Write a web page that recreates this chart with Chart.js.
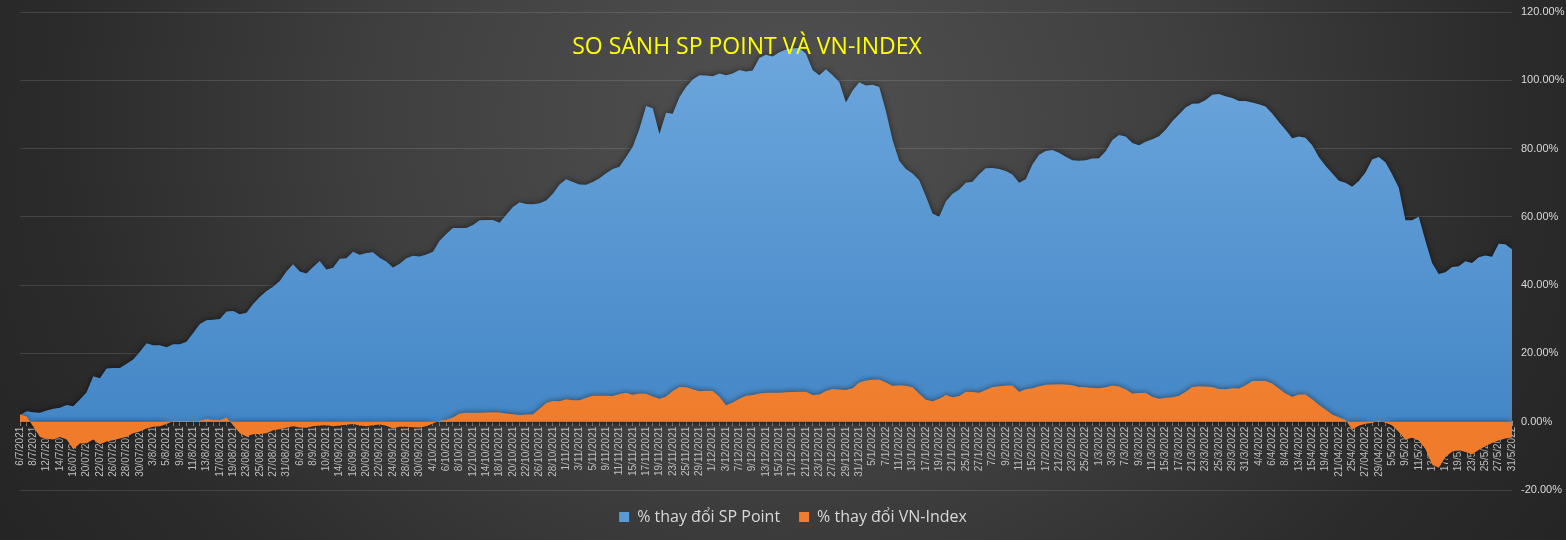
<!DOCTYPE html>
<html>
<head>
<meta charset="utf-8">
<script src="https://cdn.jsdelivr.net/npm/chart.js@4/dist/chart.umd.min.js"></script>
<style>
  html, body { margin: 0; padding: 0; overflow: hidden; }
  #wrap {
    width: 1566px; height: 540px; position: relative;
    background: radial-gradient(ellipse 58% 150% at 50% 22%, #515151 0%, #3f3f3f 45%, #2b2b2b 80%, #252525 100%);
  }
  canvas { display: block; }
</style>
</head>
<body>
<div id="wrap"><canvas id="chart" width="1566" height="540"></canvas></div>
<script>
const chartTitle = "SO SÁNH SP POINT VÀ VN-INDEX";
const seriesNames = ["% thay đổi SP Point", "% thay đổi VN-Index"];

// trading days, 6/7/2021 -> 31/5/2022 (text as shown on the axis)
const dates = [
  "6/7/2021","7/7/2021","8/7/2021","9/7/2021","12/7/2021","13/7/2021","14/7/2022","15/07/2021","16/07/2021","19/07/2021",
  "20/07/2021","21/07/2021","22/07/2021","23/07/2021","26/07/2021","27/07/2021","28/07/2021","29/07/2021","30/07/2021",
  "2/8/2021","3/8/2021","4/8/2021","5/8/2021","6/8/2021","9/8/2021","10/8/2021","11/8/2021","12/8/2021","13/8/2021",
  "16/08/2021","17/08/2021","18/08/2021","19/08/2021","20/08/2021","23/08/2021","24/08/2021","25/08/2021","26/08/2021",
  "27/08/2021","30/08/2021","31/08/2021",
  "1/9/2021","6/9/2021","7/9/2021","8/9/2021","9/9/2021","10/9/2021","13/09/2021","14/09/2021","15/09/2021","16/09/2021",
  "17/09/2021","20/09/2021","21/09/2021","22/09/2021","23/09/2021","24/09/2021","27/09/2021","28/09/2021","29/09/2021","30/09/2021",
  "1/10/2021","4/10/2021","5/10/2021","6/10/2021","7/10/2021","8/10/2021","11/10/2021","12/10/2021","13/10/2021","14/10/2021",
  "15/10/2021","18/10/2021","19/10/2021","20/10/2021","21/10/2021","22/10/2021","25/10/2021","26/10/2021","27/10/2021",
  "28/10/2021","29/10/2021",
  "1/11/2021","2/11/2021","3/11/2021","4/11/2021","5/11/2021","8/11/2021","9/11/2021","10/11/2021","11/11/2021","12/11/2021",
  "15/11/2021","16/11/2021","17/11/2021","18/11/2021","19/11/2021","22/11/2021","23/11/2021","24/11/2021","25/11/2021",
  "26/11/2021","29/11/2021","30/11/2021",
  "1/12/2021","2/12/2021","3/12/2021","6/12/2021","7/12/2021","8/12/2021","9/12/2021","10/12/2021","13/12/2021","14/12/2021",
  "15/12/2021","16/12/2021","17/12/2021","20/12/2021","21/12/2021","22/12/2021","23/12/2021","24/12/2021","27/12/2021",
  "28/12/2021","29/12/2021","30/12/2021","31/12/2021",
  "4/1/2022","5/1/2022","6/1/2022","7/1/2022","10/1/2022","11/1/2022","12/1/2022","13/1/2022","14/1/2022","17/1/2022",
  "18/1/2022","19/1/2022","20/1/2022","21/1/2022","24/1/2022","25/1/2022","26/1/2022","27/1/2022","28/1/2022",
  "7/2/2022","8/2/2022","9/2/2022","10/2/2022","11/2/2022","14/2/2022","15/2/2022","16/2/2022","17/2/2022","18/2/2022",
  "21/2/2022","22/2/2022","23/2/2022","24/2/2022","25/2/2022","28/2/2022",
  "1/3/2022","2/3/2022","3/3/2022","4/3/2022","7/3/2022","8/3/2022","9/3/2022","10/3/2022","11/3/2022","14/3/2022",
  "15/3/2022","16/3/2022","17/3/2022","18/3/2022","21/3/2022","22/3/2022","23/3/2022","24/3/2022","25/3/2022","28/3/2022",
  "29/3/2022","30/3/2022","31/3/2022",
  "1/4/2022","4/4/2022","5/4/2022","6/4/2022","7/4/2022","8/4/2022","12/4/2022","13/4/2022","14/4/2022","15/4/2022",
  "18/4/2022","19/4/2022","20/04/2022","21/04/2022","22/04/2022","25/4/2022","26/04/2022","27/04/2022","28/04/2022","29/04/2022",
  "4/5/2022","5/5/2022","6/5/2022","9/5/2022","10/5/2022","11/5/2022","12/5/2022","13/5/2022","16/5/2022","17/5/2022",
  "18/5/2022","19/5/2022","20/5/2022","23/5/2022","24/5/2022","25/5/2022","26/5/2022","27/5/2022","30/5/2022","31/5/2022"
];

// % change of SP Point
const spPoint = [
  2.0, 3.1, 2.8, 2.6, 3.3, 3.8, 4.1, 4.9, 4.5, 6.5,
  8.6, 13.3, 12.7, 15.6, 15.7, 15.7, 17.0, 18.2, 20.5, 23.0,
  22.4, 22.4, 21.8, 22.7, 22.7, 23.4, 26.0, 28.6, 29.7, 29.9,
  30.1, 32.3, 32.4, 31.5, 31.9, 34.5, 36.5, 38.3, 39.5, 41.2,
  44.0, 46.1, 44.0, 43.4, 45.3, 47.1, 44.6, 45.1, 47.7, 47.9,
  49.8, 48.9, 49.4, 49.6, 48.0, 46.9, 45.2, 46.3, 47.9, 48.6,
  48.4, 49.0, 49.8, 53.0, 55.0, 56.7, 56.7, 56.7, 57.6, 59.0,
  59.1, 59.1, 58.3, 60.6, 62.9, 64.3, 63.8, 63.7, 64.0, 64.8,
  66.8, 69.5, 71.0, 70.2, 69.5, 69.4, 70.2, 71.3, 72.8, 74.0,
  74.7, 77.5, 80.5, 85.8, 92.5, 91.8, 84.3, 90.5, 90.2, 95.0,
  98.0, 100.2, 101.5, 101.4, 101.2, 102.0, 101.5, 102.0, 103.0, 102.6,
  102.9, 106.5, 107.5, 107.0, 108.2, 109.0, 109.3, 109.5, 107.8, 103.0,
  101.5, 103.2, 101.5, 99.5, 93.5, 97.0, 99.4, 98.5, 98.7, 98.0,
  91.0, 82.5, 76.4, 74.0, 72.7, 70.7, 66.0, 61.0, 60.0, 64.5,
  66.8, 68.0, 70.0, 70.3, 72.5, 74.2, 74.3, 74.0, 73.4, 72.4,
  70.0, 71.0, 75.3, 78.2, 79.3, 79.6, 78.8, 77.6, 76.6, 76.4,
  76.6, 77.1, 77.2, 79.2, 82.5, 84.0, 83.5, 81.6, 81.0, 82.0,
  82.7, 83.6, 85.5, 88.0, 90.0, 92.0, 93.1, 93.2, 94.2, 95.8,
  96.0, 95.3, 94.8, 93.9, 93.9, 93.5, 93.0, 92.3, 90.3, 87.8,
  85.5, 83.0, 83.5, 83.2, 81.0, 77.5, 75.0, 72.8, 70.6, 70.0,
  68.8, 70.5, 73.0, 76.8, 77.5, 76.0, 72.5, 68.5, 59.0, 59.0,
  60.0, 53.0, 46.5, 43.3, 43.8, 45.3, 45.5, 47.0, 46.5, 48.2,
  48.7, 48.3, 52.1, 52.0, 50.5
];

// % change of VN-Index
const vnIndex = [
  2.1, 1.5, -1.5, -4.5, -5.0, -5.2, -4.5, -5.2, -8.1, -6.4,
  -6.3, -5.2, -6.6, -5.8, -5.4, -4.9, -4.4, -3.4, -2.9, -2.0,
  -1.5, -1.3, -0.7, 0.1, 0.2, 0.2, 0.1, 0.3, 0.8, 0.5,
  0.4, 1.2, -1.0, -3.4, -4.3, -3.7, -3.6, -3.4, -2.5, -2.2,
  -1.8, -1.3, -1.7, -1.8, -1.3, -1.1, -1.0, -1.3, -1.1, -0.9,
  -0.7, -1.1, -1.3, -1.0, -0.8, -1.2, -2.0, -1.5, -1.5, -1.6,
  -1.7, -1.3, -0.5, 0.3, 0.5, 1.2, 2.4, 2.6, 2.6, 2.6,
  2.7, 2.8, 2.7, 2.4, 2.2, 2.0, 2.1, 2.2, 3.8, 5.5,
  6.1, 6.0, 6.6, 6.3, 6.3, 7.0, 7.6, 7.6, 7.6, 7.5,
  8.1, 8.5, 7.9, 8.3, 8.2, 7.4, 6.7, 7.4, 9.0, 10.2,
  10.1, 9.5, 8.9, 9.1, 9.0, 7.3, 4.8, 5.6, 6.7, 7.6,
  7.8, 8.3, 8.5, 8.5, 8.5, 8.6, 8.7, 8.8, 8.8, 7.8,
  8.0, 9.0, 9.6, 9.4, 9.3, 9.8, 11.5, 12.1, 12.3, 12.4,
  11.5, 10.5, 10.7, 10.5, 10.1, 8.2, 6.4, 6.0, 6.7, 7.8,
  7.2, 7.5, 8.8, 8.7, 8.5, 9.3, 10.2, 10.4, 10.6, 10.6,
  8.8, 9.5, 9.8, 10.4, 10.8, 10.9, 11.0, 10.9, 10.7, 10.2,
  10.1, 9.9, 9.8, 10.1, 10.6, 10.3, 9.5, 8.3, 8.4, 8.5,
  7.3, 6.7, 7.0, 7.2, 7.6, 8.8, 10.2, 10.4, 10.3, 10.2,
  9.6, 9.5, 9.8, 9.7, 10.7, 11.9, 12.0, 11.9, 11.2, 9.7,
  8.3, 7.3, 8.0, 8.0, 6.6, 5.0, 3.6, 2.1, 1.3, 0.5,
  -2.3, -1.2, -0.6, -0.4, 0.3, -0.3, -1.0, -3.0, -5.2, -4.7,
  -5.5, -8.0, -12.5, -13.5, -10.3, -8.8, -8.3, -8.9, -9.5, -8.3,
  -7.2, -6.2, -5.5, -4.9, -4.6
];

const yTicks = [-20, 0, 20, 40, 60, 80, 100, 120];

const blueSolid = "#5b9bd5";
const orangeSolid = "#ed7d31";

function areaGradient(top, bottom) {
  return (ctx) => {
    const chart = ctx.chart;
    const area = chart.chartArea;
    if (!area) return bottom;
    const zeroY = chart.scales.y.getPixelForValue(0);
    const g = chart.ctx.createLinearGradient(0, area.top, 0, zeroY);
    g.addColorStop(0, top);
    g.addColorStop(1, bottom);
    return g;
  };
}

// soft dark shadow behind the areas
const shadowPlugin = {
  id: "areaShadow",
  beforeDatasetsDraw(chart) {
    const c = chart.ctx;
    c.save();
    c.shadowColor = "rgba(0,0,0,0.55)";
    c.shadowBlur = 6;
    c.shadowOffsetX = 0;
    c.shadowOffsetY = 0;
  },
  afterDatasetsDraw(chart) {
    chart.ctx.restore();
  }
};

const titlePlugin = {
  id: "overlayTitle",
  afterDraw(chart) {
    const c = chart.ctx;
    c.save();
    c.font = '23px "Open Sans"';
    c.fillStyle = "#ffff00";
    c.textAlign = "center";
    c.textBaseline = "middle";
    c.fillText(chartTitle, 747, 47);
    c.restore();
  }
};

Chart.defaults.color = "#d9d9d9";
Chart.defaults.font.family = '"Liberation Sans", Arial, sans-serif';

new Chart(document.getElementById("chart"), {
  type: "line",
  data: {
    labels: dates,
    datasets: [
      {
        label: seriesNames[0],
        data: spPoint,
        fill: "origin",
        backgroundColor: areaGradient("#70a9de", "#4487c7"),
        borderColor: "transparent",
        borderWidth: 0,
        pointRadius: 0,
        tension: 0,
        order: 1
      },
      {
        label: seriesNames[1],
        data: vnIndex,
        fill: "origin",
        backgroundColor: areaGradient("#f5a26a", "#f07c2b"),
        borderColor: "transparent",
        borderWidth: 0,
        pointRadius: 0,
        tension: 0,
        order: 0
      }
    ]
  },
  options: {
    responsive: false,
    animation: false,
    layout: { padding: { left: 20, right: 0, top: 12, bottom: 5 } },
    plugins: {
      title: { display: false },
      tooltip: { enabled: false },
      legend: {
        position: "bottom",
        labels: {
          color: "#d9d9d9",
          font: { size: 16, family: '"Open Sans", sans-serif' },
          boxWidth: 10,
          boxHeight: 10,
          padding: 19,
          sort: (a, b) => a.datasetIndex - b.datasetIndex,
          generateLabels(chart) {
            const items = Chart.defaults.plugins.legend.labels.generateLabels(chart);
            items.forEach((it) => {
              it.fillStyle = it.datasetIndex === 0 ? blueSolid : orangeSolid;
              it.strokeStyle = "transparent";
              it.lineWidth = 0;
            });
            return items;
          }
        }
      }
    },
    scales: {
      x: {
        position: { y: 0 },
        offset: false,
        border: { display: true, color: "#a6a6a6", width: 1 },
        grid: { drawOnChartArea: false, drawTicks: true, tickLength: 4, color: "#8c8c8c" },
        ticks: {
          autoSkip: false,
          maxRotation: 90,
          minRotation: 90,
          padding: 1,
          color: "#bfbfbf",
          font: { size: 10 },
          callback: function (value, index) {
            return index % 2 === 0 ? this.getLabelForValue(value) : "";
          }
        },
        afterFit: (scale) => { scale.paddingTop = 0; }
      },
      y: {
        position: "right",
        min: yTicks[0],
        max: yTicks[yTicks.length - 1],
        afterBuildTicks: (scale) => { scale.ticks = yTicks.map((v) => ({ value: v })); },
        afterFit: (scale) => { scale.width = 54; scale.paddingTop = 0; },
        border: { display: false },
        grid: { color: "rgba(255,255,255,0.12)", drawTicks: false },
        ticks: {
          padding: 9,
          color: "#d9d9d9",
          font: { size: 11 },
          callback: (v) => v.toFixed(2) + "%"
        }
      }
    }
  },
  plugins: [shadowPlugin, titlePlugin]
});
</script>
</body>
</html>
